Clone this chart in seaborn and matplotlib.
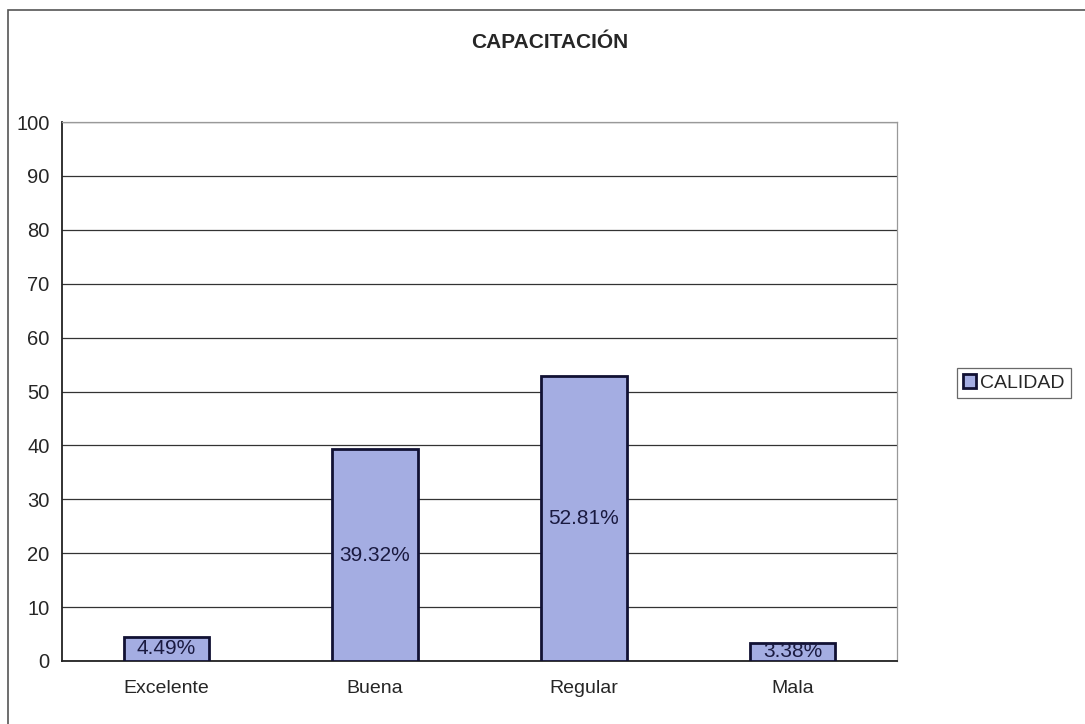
import matplotlib
matplotlib.use("Agg")
import matplotlib.pyplot as plt
import seaborn as sns
import pandas as pd
from matplotlib.patches import Rectangle

categorias = ["Excelente", "Buena", "Regular", "Mala"]
valores = [4.49, 39.32, 52.81, 3.38]
etiquetas = ["4.49%", "39.32%", "52.81%", "3.38%"]
serie = "CALIDAD"
titulo = "CAPACITACIÓN"
y_ticks = [0, 10, 20, 30, 40, 50, 60, 70, 80, 90, 100]

sns.set_theme(style="white")
plt.rcParams["font.family"] = ["Liberation Sans", "DejaVu Sans"]

df = pd.DataFrame({"categoria": categorias, "valor": valores, "serie": serie})

fig = plt.figure(figsize=(10.85, 7.24), dpi=100)
fig.patch.set_facecolor("white")

# chart frame
fig.patches.append(Rectangle((8 / 1085, -0.05), 1.1, (724 - 10) / 724 + 0.05,
                             transform=fig.transFigure, fill=False,
                             edgecolor="#555555", linewidth=1.2))

ax = fig.add_axes([62 / 1085, 63 / 724, (897 - 62) / 1085, (661 - 122) / 724])

bar_color = "#9AA5EC"
sns.barplot(data=df, x="categoria", y="valor", hue="serie", ax=ax,
            palette=[bar_color], width=0.41, edgecolor="#111133",
            linewidth=2.0, legend=True, zorder=3)

ax.set_ylim(0, 100)
ax.set_xlim(-0.5, len(categorias) - 0.5)
ax.set_yticks(y_ticks)
ax.set_yticklabels([str(t) for t in y_ticks], fontsize=14.5)
ax.set_xticks(range(len(categorias)))
ax.set_xticklabels(categorias, fontsize=14)
ax.tick_params(axis="x", length=0, pad=14)
ax.set_xticks([i + 0.5 for i in range(-1, len(categorias))], minor=True)
ax.tick_params(axis="x", which="minor", length=5, width=1, color="#333333", direction="out")
ax.tick_params(axis="y", length=5, width=1, color="#333333", direction="out", pad=4)
ax.set_xlabel("")
ax.set_ylabel("")

ax.yaxis.grid(True, color="#333333", linewidth=0.9, zorder=0)
ax.set_axisbelow(True)

for side in ["top", "right"]:
    ax.spines[side].set_color("#999999")
    ax.spines[side].set_linewidth(0.9)
ax.spines["left"].set_color("#222222")
ax.spines["left"].set_linewidth(1.3)
ax.spines["bottom"].set_color("#222222")
ax.spines["bottom"].set_linewidth(1.3)

for cont in ax.containers:
    ax.bar_label(cont, labels=etiquetas, label_type="center", fontsize=15,
                 color="#1a1a40")

fig.text(550 / 1085, 1 - 43 / 724, titulo, ha="center", va="center",
         fontsize=15, fontweight="bold")

leg = ax.legend(loc="center left", bbox_to_anchor=(957 / 1085, 1 - 383 / 724),
                bbox_transform=fig.transFigure, frameon=True, fancybox=False,
                fontsize=14, handlelength=0.7, handleheight=0.7,
                handletextpad=0.2, borderpad=0.3, borderaxespad=0.0,
                edgecolor="#444444")
leg.get_frame().set_linewidth(0.9)

fig.savefig("out.png", dpi=100, facecolor="white")
